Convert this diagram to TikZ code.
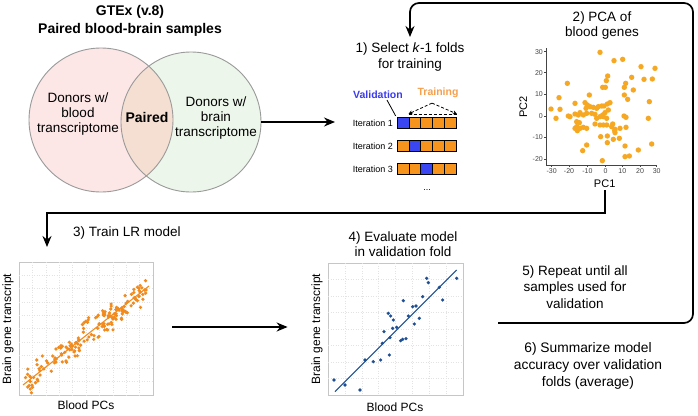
\documentclass[tikz,border=0pt]{standalone}
\usepackage{fontspec}
\setmainfont{Liberation Sans}
\usetikzlibrary{arrows.meta}
\definecolor{pinkfill}{HTML}{FCE6E6}
\definecolor{greenfill}{HTML}{ECF6EA}
\definecolor{overlapfill}{HTML}{F4DFD2}
\definecolor{vgray}{HTML}{9A9A9A}
\definecolor{valblue}{HTML}{3A46F2}
\definecolor{valtext}{HTML}{3B3BF0}
\definecolor{trorange}{HTML}{F7941E}
\definecolor{trtext}{HTML}{F6A04D}
\definecolor{pcaorange}{HTML}{F7A823}
\definecolor{lrorange}{HTML}{F28B1E}
\definecolor{evalblue}{HTML}{1E4F94}
\definecolor{axgray}{HTML}{444444}
\begin{document}
\begin{tikzpicture}[x=1pt,y=-1pt,
  steplbl/.style={font=\fontsize{13.5}{16}\selectfont, align=center, inner sep=0pt},
  vennlbl/.style={font=\fontsize{13.5}{15}\selectfont, align=center, inner sep=0pt},
  arr/.style={-{Stealth[length=11pt,width=9pt]}, line width=1.7pt},
  conn/.style={line width=1.7pt},
  itlbl/.style={font=\fontsize{9}{11}\selectfont, inner sep=0pt},
  blk/.style={draw=black, line width=0.7pt, minimum width=11.9pt, minimum height=11.5pt, inner sep=0pt},
  axisl/.style={axgray, line width=0.7pt},
  ticklbl/.style={font=\fontsize{7}{8}\selectfont, text=axgray, inner sep=0pt},
  axlbl/.style={font=\fontsize{11}{12}\selectfont, inner sep=0pt},
  plotlbl/.style={font=\fontsize{12}{14}\selectfont, inner sep=0pt},
  frame/.style={draw=gray!45, line width=0.8pt, inner sep=0pt},
  gridl/.style={gray!22, line width=0.5pt, dotted},
  fdash/.style={dash pattern=on 3pt off 2pt, line width=0.8pt}
]
\useasboundingbox (0,0) rectangle (698,415);
\fill[white] (0,0) rectangle (698,415);

% ---------- title ----------
\node[font=\bfseries\fontsize{14}{18}\selectfont, align=center, inner sep=0pt] (title) at (130,21) {GTEx (v.8)\\Paired blood-brain samples};

% ---------- Venn ----------
\node[circle, minimum size=144pt, fill=pinkfill, inner sep=0pt] (blood) at (101,120) {};
\node[circle, minimum size=140pt, fill=greenfill, inner sep=0pt] (brain) at (191,122) {};
\begin{scope}
  \clip (blood.center) circle[radius=72pt];
  \fill[overlapfill] (brain.center) circle[radius=70pt];
\end{scope}
\draw[vgray, line width=0.9pt] (blood.center) circle[radius=72pt];
\draw[vgray, line width=0.9pt] (brain.center) circle[radius=70pt];
\node[vennlbl] (dblood) at (78,114) {Donors w/\\blood\\transcriptome};
\node[vennlbl, font=\bfseries\fontsize{14}{15}\selectfont] (paired) at (147,117) {Paired};
\node[vennlbl] (dbrain) at (216,118) {Donors w/\\brain\\transcriptome};

% ---------- step 1 ----------
\node[steplbl] (s1) at (410,57) {1) Select \textit{k}-1 folds\\for training};
\coordinate (foldsin) at (335,122);
\draw[arr, line width=1.4pt] (brain.east) -- (foldsin);

\node[font=\bfseries\fontsize{10.5}{12}\selectfont, text=valtext, inner sep=0pt] (val) at (378,95) {Validation};
\node[font=\bfseries\fontsize{10.5}{12}\selectfont, text=trtext, inner sep=0pt] (tr) at (438,93) {Training};

\foreach \r/\y in {1/123,2/146,3/169} {
  \node[itlbl, anchor=east] (it\r) at (393,\y) {Iteration \r};
  \foreach \c in {1,...,5} {
    \ifnum\c=\r \def\bc{valblue}\else\def\bc{trorange}\fi
    \node[blk, fill=\bc] (b\r\c) at ({397+11.9*(\c-0.5)},\y) {};
  }
}
\node[itlbl, anchor=base] (more) at (427,190) {...};

\draw[line width=0.8pt] ([xshift=9pt,yshift=-1pt]val.south) -- ([xshift=-1pt,yshift=1pt]b11.north west);
\coordinate (apex) at ([xshift=-6pt,yshift=-5pt]tr.south);
\draw[fdash, -{Stealth[length=4pt,width=4pt]}] (apex) -- ([yshift=3pt]b12.north west);
\draw[fdash, -{Stealth[length=4pt,width=4pt]}] (apex) -- ([yshift=3pt]b15.north east);
\draw[fdash] ([yshift=3pt]b12.north west) -- ([yshift=3pt]b15.north east);

% ---------- step 2: PCA ----------
\node[steplbl, font=\fontsize{13.5}{15}\selectfont] (s2) at (602,25.5) {2) PCA of\\blood genes};
\begin{scope}[xshift=480pt, x=0.33333pt, y=-0.33333pt]
  \draw[axisl] (200,145) -- (200,495) -- (532,495);
  \foreach \v/\zy [count=\k] in {30/155,20/218,10/283,0/349,-10/412,-20/478} {
    \draw[axisl] (193,\zy) -- (200,\zy);
    \node[ticklbl, anchor=east] (yt\k) at (189,\zy) {\v};
  }
  \foreach \v/\zx [count=\k] in {-30/215,-20/267,-10/322,0/377,10/427,20/480,30/530} {
    \draw[axisl] (\zx,495) -- (\zx,502);
    \node[ticklbl, anchor=north] (xt\k) at (\zx,506) {\v};
  }
  \foreach \zx/\zy in {360/157,402/182,428/178,483/200,525/205,383/228,262/250,379/242,437/250,433/262,455/232,492/238,517/237,368/262,376/262,460/270,237/293,328/285,433/285,443/298,508/305,213/327,240/328,228/355,285/310,315/308,322/315,330/320,318/325,340/322,350/325,355/320,365/318,372/318,382/312,390/308,385/330,375/338,368/345,345/343,335/340,320/340,310/345,300/338,295/345,285/342,270/350,265/348,432/348,438/352,505/355,350/355,360/350,370/350,380/355,345/372,360/375,370/375,380/375,395/380,398/372,405/388,420/385,438/382,290/380,285/385,292/392,300/385,310/382,320/385,290/365,298/368,362/410,382/408,404/392,405/398,382/428,400/418,418/415,320/435,308/452,435/438,475/450,515/432,435/470,448/468,367/482}
    \fill[pcaorange] (\zx,\zy) circle[radius=2.7pt];
  \node[axlbl] (pc1) at (374,550) {PC1};
  \node[axlbl, rotate=90] (pc2) at (130,320) {PC2};
\end{scope}

% ---------- step 3 ----------
\coordinate (p3in) at (47,247);
\draw[arr] ([yshift=-3pt]pc1.south) -- (pc1.south |- 0,213) -| (p3in);
\node[steplbl] (s3) at (127,233) {3) Train LR model};
\node[frame, minimum width=134pt, minimum height=133pt] (p3) at (86,328.5) {};
\begin{scope}
  \clip (19,262) rectangle (153,395);
  \foreach \g in {1,...,9} {
    \draw[gridl] ({19+13.4*\g},262) -- ({19+13.4*\g},395);
    \draw[gridl] (19,{262+13.3*\g}) -- (153,{262+13.3*\g});
  }
  \draw[lrorange, line width=1.1pt] (23,385) -- (149,286);
  \pgfmathsetseed{11}
  \foreach \i in {1,...,170} {
    \pgfmathsetmacro\myu{rnd}
    \pgfmathsetmacro\px{25+122*(\myu)^0.75}
    \pgfmathsetmacro\py{385-0.784*(\px-23)+8.5*(rand+rand)}
    \fill[lrorange] (\px,\py) circle[radius=1.8pt];
  }
\end{scope}
\node[plotlbl, rotate=90] (p3y) at (8,329) {Brain gene transcript};
\node[plotlbl] (p3x) at (86,405) {Blood PCs};

% ---------- step 4 ----------
\node[steplbl, font=\fontsize{13.5}{15}\selectfont] (s4) at (403,244.5) {4) Evaluate model\\in validation fold};
\node[frame, minimum width=135pt, minimum height=132pt] (p4) at (395.5,329) {};
\draw[arr] ([xshift=19pt,yshift=1.5pt]p3.east) -- ([xshift=-40pt,yshift=2pt]p4.west);
\begin{scope}
  \clip (328,263) rectangle (463,395);
  \foreach \g in {1,...,7} {
    \draw[gridl] ({328+16.9*\g},263) -- ({328+16.9*\g},395);
    \draw[gridl] (328,{263+16.5*\g}) -- (463,{263+16.5*\g});
  }
\end{scope}
\begin{scope}[xshift=250pt, yshift=-210pt, x=0.33333pt, y=-0.33333pt]
  \draw[evalblue, line width=1.1pt] (255,545) -- (620,180);
  \foreach \zx/\zy in {252/510,285/525,330/540,345/450,370/455,392/450,418/435,397/400,420/383,402/365,428/355,440/352,415/310,422/318,430/330,452/392,458/388,468/386,460/272,475/318,488/290,498/288,493/342,508/325,518/260,530/205,535/218,568/232,578/270,620/205}
    \fill[evalblue] (\zx,\zy) circle[radius=1.8pt];
\end{scope}
\node[plotlbl, rotate=90] (p4y) at (317,329) {Brain gene transcript};
\node[plotlbl] (p4x) at (395,407) {Blood PCs};

% ---------- step 5 and 6 ----------
\node[steplbl, font=\fontsize{13.5}{16.5}\selectfont] (s5) at (575,287) {5) Repeat until all\\samples used for\\validation};
\node[steplbl, font=\fontsize{13.8}{17}\selectfont] (s6) at (588,366) {6) Summarize model\\accuracy over validation\\folds (average)};

\coordinate (loopstart) at (498,323);
\draw[arr, rounded corners=9pt] (loopstart) -- (693,323) -- (693,3) -- (s1.north |- 0,3) -- ([yshift=5.5pt]s1.north);
\end{tikzpicture}
\end{document}
